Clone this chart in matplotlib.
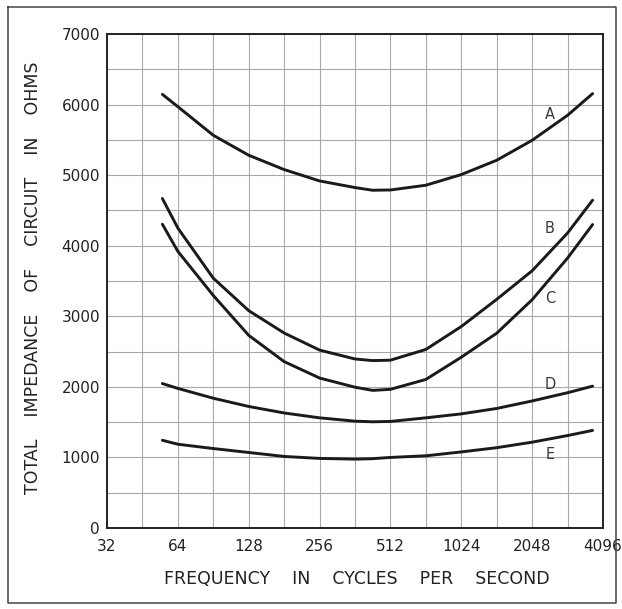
import numpy as np
import matplotlib
matplotlib.use('Agg')
import matplotlib.pyplot as plt
from matplotlib.lines import Line2D
from matplotlib.ticker import NullFormatter

# 주파수 (Hz) - 각 곡선 공통 측정점
freq = [55, 64, 90.5, 128, 181, 256, 362, 430, 512, 724, 1024, 1448, 2048, 2896, 3700]

# 회로 임피던스 (ohm), 그림에서 읽은 값
imp_a = [6145, 5970, 5565, 5282, 5079, 4918, 4824, 4786, 4790, 4857, 5008, 5211, 5494, 5848, 6155]
imp_b = [4669, 4250, 3540, 3080, 2763, 2521, 2395, 2372, 2378, 2530, 2855, 3240, 3645, 4180, 4645]
imp_c = [4305, 3920, 3295, 2730, 2358, 2125, 1995, 1950, 1965, 2105, 2420, 2760, 3235, 3825, 4300]
imp_d = [2047, 1978, 1839, 1722, 1630, 1561, 1514, 1505, 1510, 1561, 1617, 1694, 1800, 1917, 2010]
imp_e = [1243, 1187, 1126, 1070, 1014, 986, 976, 982, 1000, 1023, 1078, 1138, 1216, 1310, 1383]

curve_names = ['A', 'B', 'C', 'D', 'E']
label_y = [5863, 4249, 3246, 2034, 1047]
label_x = 2438

x_ticks = [32, 64, 128, 256, 512, 1024, 2048, 4096]
y_ticks = [0, 1000, 2000, 3000, 4000, 5000, 6000, 7000]

plt.rcParams['font.family'] = ['DejaVu Sans']

fig = plt.figure(figsize=(6.22, 6.09), dpi=100)
ax = fig.add_axes([107 / 622, 81 / 609, 496 / 622, 494 / 609])

for ys in (imp_a, imp_b, imp_c, imp_d, imp_e):
    ax.plot(freq, ys, color='#1a1a1a', lw=2.1, solid_capstyle='round', solid_joinstyle='round')

for name, ly in zip(curve_names, label_y):
    ax.text(label_x, ly, name, ha='center', va='center', fontsize=10.5, color='#3a3a3a')

ax.set_xscale('log', base=2)
ax.set_xlim(32, 4096)
ax.set_ylim(0, 7000)

ax.set_xticks(x_ticks)
ax.set_xticklabels([str(v) for v in x_ticks])
ax.set_xticks([32 * 2 ** (k + 0.5) for k in range(7)], minor=True)
ax.xaxis.set_minor_formatter(NullFormatter())
ax.set_yticks(y_ticks)
ax.set_yticklabels([str(v) for v in y_ticks])
ax.set_yticks(np.arange(500, 7000, 1000), minor=True)
ax.yaxis.set_minor_formatter(NullFormatter())

ax.grid(True, which='both', color='#a8a8a8', lw=0.8)
ax.tick_params(which='both', length=0)
ax.tick_params(axis='x', pad=8, labelsize=11, labelcolor='#222222')
ax.tick_params(axis='y', pad=5, labelsize=11, labelcolor='#222222')
for s in ax.spines.values():
    s.set_linewidth(1.4)
    s.set_color('#222222')

# 축 제목 (단어 간격 넓게)
fig.text(357 / 622, 1 - 579 / 609, 'FREQUENCY    IN    CYCLES    PER    SECOND',
         ha='center', va='center', fontsize=12.5, color='#222222')
fig.text(33 / 622, 1 - 278 / 609, 'TOTAL    IMPEDANCE    OF    CIRCUIT    IN    OHMS',
         ha='center', va='center', rotation=90, fontsize=12.5, color='#222222')

# 바깥 테두리
fig.add_artist(Line2D([8 / 622, 8 / 622, 616 / 622, 616 / 622, 8 / 622],
                      [1 - 7 / 609, 1 - 603 / 609, 1 - 603 / 609, 1 - 7 / 609, 1 - 7 / 609],
                      transform=fig.transFigure, color='#444444', lw=1.1))

fig.savefig('out.png', dpi=100)
